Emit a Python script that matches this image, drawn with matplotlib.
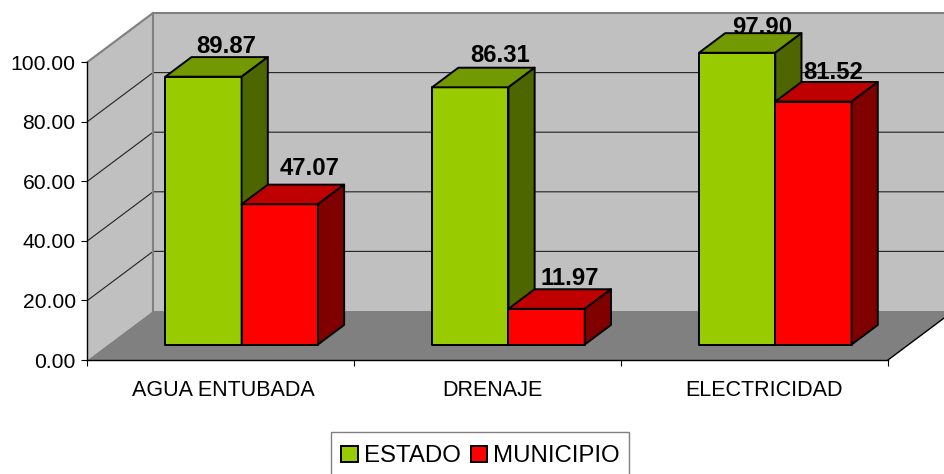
import matplotlib
matplotlib.use("Agg")
import matplotlib.pyplot as plt
from matplotlib.patches import Polygon, Patch, Rectangle

plt.rcParams['font.family'] = ['Liberation Sans', 'DejaVu Sans']

categories = ["AGUA ENTUBADA", "DRENAJE", "ELECTRICIDAD"]
estado = [89.87, 86.31, 97.90]
municipio = [47.07, 11.97, 81.52]
y_ticks = [0, 20, 40, 60, 80, 100]

W, H = 945, 474
PX_L, PX_R, PX_0, PX_100 = 87.5, 888.0, 360.0, 62.0
fig = plt.figure(figsize=(W / 100, H / 100), dpi=100, facecolor="white")
ax = fig.add_axes([PX_L / W, 1 - PX_0 / H, (PX_R - PX_L) / W, (PX_0 - PX_100) / H])
ax.set_xlim(0, 3)
ax.set_ylim(0, 100)
ax.patch.set_visible(False)

# oblique projection: depth z in 0..1 shifts right and up
DX = 65.5 * 3 / (PX_R - PX_L)
DY = 49.0 * 100 / (PX_0 - PX_100)


def P(x, y, z=0.0):
    return (x + z * DX, y + z * DY)


def poly(pts, fc, ec="none", lw=0.0, z=1):
    ax.add_patch(Polygon(pts, closed=True, facecolor=fc, edgecolor=ec, linewidth=lw,
                         joinstyle="round", clip_on=False, zorder=z))


WALL, FLOOR, EDGE = "#C0C0C0", "#808080", "#808080"
# walls and floor
poly([P(0, 0), P(0, 100), P(0, 100, 1), P(0, 0, 1)], WALL)
poly([P(0, 0, 1), P(0, 100, 1), P(3, 100, 1), P(3, 0, 1)], WALL)
poly([P(0, 0), P(3, 0), P(3, 0, 1), P(0, 0, 1)], FLOOR)

for t in y_ticks[1:-1]:
    xs, ys = zip(P(0, t), P(0, t, 1), P(3, t, 1))
    ax.plot(xs, ys, color="#222222", lw=0.8, clip_on=False, zorder=1.2)
xs, ys = zip(P(0, 100), P(0, 100, 1), P(3, 100, 1))
ax.plot(xs, ys, color=EDGE, lw=1.5, clip_on=False, zorder=1.3)
xs, ys = zip(P(0, 100, 1), P(0, 0, 1))
ax.plot(xs, ys, color=EDGE, lw=1.5, clip_on=False, zorder=1.3)
xs, ys = zip(P(3, 0), P(3, 0, 1))
ax.plot(xs, ys, color="black", lw=1.0, clip_on=False, zorder=1.3)

BAR_W, Z0, Z1 = 0.286, 0.316, 0.716


def bar3d(x0, v, front, top, side):
    x1 = x0 + BAR_W
    k = dict(ec="black", lw=1.4, z=3)
    poly([P(x0, 0, Z0), P(x1, 0, Z0), P(x1, v, Z0), P(x0, v, Z0)], front, **k)
    poly([P(x0, v, Z0), P(x1, v, Z0), P(x1, v, Z1), P(x0, v, Z1)], top, **k)
    poly([P(x1, 0, Z0), P(x1, 0, Z1), P(x1, v, Z1), P(x1, v, Z0)], side, **k)


# per-label nudges (pixels) relative to the centre of the bar's back top edge
est_nudge = [(-3.5, 4.5), (3.5, 5.5), (-1, -1)]
mun_nudge = [(4, 10), (-3, 4), (-6, 3)]

for i, (a, b) in enumerate(zip(estado, municipio)):
    c = i + 0.5
    bar3d(c - BAR_W, a, "#99CC00", "#739900", "#4D6600")
    bar3d(c, b, "#FF0000", "#BF0000", "#800000")
    for x0, v, (nx, ny) in ((c - BAR_W, a, est_nudge[i]), (c, b, mun_nudge[i])):
        ax.annotate(f"{v:.2f}", xy=P(x0 + BAR_W / 2, v, Z1), xytext=(nx * 0.72, ny * 0.72),
                    textcoords="offset points", ha="center", va="baseline",
                    fontsize=17.2, fontweight="bold", color="black",
                    annotation_clip=False, zorder=2.5)

for s in ("top", "right"):
    ax.spines[s].set_visible(False)
for s in ("left", "bottom"):
    ax.spines[s].set_linewidth(1.0)
    ax.spines[s].set_zorder(2)

ax.set_yticks(y_ticks)
ax.set_yticklabels([f"{t:.2f}" for t in y_ticks], fontsize=15.2, color="black")
ax.tick_params(axis="y", length=4.5, width=0.8, pad=4)
ax.set_xticks([0, 1, 2, 3])
ax.set_xticklabels([])
ax.set_xticks([0.508, 1.517, 2.535], minor=True)
ax.set_xticklabels(categories, minor=True, fontsize=15.5, color="black")
ax.tick_params(axis="x", which="major", length=4.5, width=0.8)
ax.tick_params(axis="x", which="minor", length=0, pad=14.5)

handles = [Patch(facecolor="#99CC00", edgecolor="black", linewidth=1.4, label="ESTADO"),
           Patch(facecolor="#FF0000", edgecolor="black", linewidth=1.4, label="MUNICIPIO")]
# frame runs past the bottom edge of the figure, as in the reference
fig.add_artist(Rectangle((331 / W, -0.02), 298 / W, 0.02 + 1 - 431.5 / H,
                         transform=fig.transFigure, facecolor="white",
                         edgecolor="#808080", linewidth=1.0, zorder=1))
leg = fig.legend(handles=handles, loc="upper left", ncol=2,
                 bbox_to_anchor=(330.5 / W, 1 - 434.5 / H), bbox_transform=fig.transFigure,
                 fontsize=17.3, frameon=False, borderaxespad=0, borderpad=0.45,
                 handlelength=0.68, handleheight=0.68, handletextpad=0.26, columnspacing=0.42)
leg.set_zorder(2)

fig.savefig("out.png", dpi=100, facecolor="white")
